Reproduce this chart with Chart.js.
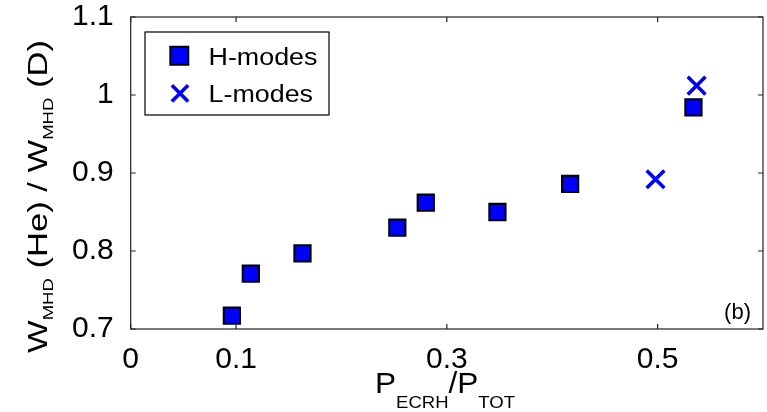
<!DOCTYPE html>
<html><head><meta charset="utf-8">
<script src="https://cdn.jsdelivr.net/npm/chart.js@4.4.0/dist/chart.umd.min.js"></script>
<style>html,body{margin:0;padding:0;background:#fff}#wrap{width:767px;height:412px}</style>
</head><body><div id="wrap"><canvas id="c" width="767" height="412"></canvas></div>
<script>
// ---- data ----
const hModeX = [0.096, 0.114, 0.163, 0.253, 0.280, 0.348, 0.417, 0.534];
const hModeY = [0.717, 0.771, 0.797, 0.830, 0.862, 0.850, 0.886, 0.984];
const lModeX = [0.498, 0.537];
const lModeY = [0.892, 1.012];
const xTicks = [0, 0.1, 0.3, 0.5];
const yTicks = [0.7, 0.8, 0.9, 1, 1.1];
const seriesNames = ['H-modes', 'L-modes'];
const panelLabel = '(b)';

const FONT = '"Liberation Sans", Arial, sans-serif';
const BLUE = '#0000ff';
const fmt = v => String(Math.round(v * 100) / 100);

const extras = {
  id: 'extras',
  afterDraw(chart) {
    const ctx = chart.ctx, a = chart.chartArea;
    const xs = chart.scales.x, ys = chart.scales.y;
    ctx.save();
    // frame
    ctx.strokeStyle = '#222'; ctx.lineWidth = 1.2;
    ctx.strokeRect(a.left, a.top, a.right - a.left, a.bottom - a.top);
    // inward tick marks
    const tl = 5;
    ctx.beginPath();
    xTicks.forEach(v => {
      const px = xs.getPixelForValue(v);
      ctx.moveTo(px, a.bottom); ctx.lineTo(px, a.bottom - tl);
      ctx.moveTo(px, a.top); ctx.lineTo(px, a.top + tl);
    });
    yTicks.forEach(v => {
      const py = ys.getPixelForValue(v);
      ctx.moveTo(a.left, py); ctx.lineTo(a.left + tl, py);
      ctx.moveTo(a.right, py); ctx.lineTo(a.right - tl, py);
    });
    ctx.stroke();

    // legend
    ctx.fillStyle = '#fff';
    ctx.fillRect(145, 32, 184, 83);
    ctx.strokeStyle = '#000'; ctx.lineWidth = 1.2;
    ctx.strokeRect(145, 32, 184, 83);
    const ds = chart.data.datasets;
    const draw = Chart.helpers.drawPoint;
    ctx.fillStyle = ds[0].backgroundColor; ctx.strokeStyle = ds[0].borderColor; ctx.lineWidth = ds[0].borderWidth;
    draw(ctx, {pointStyle: ds[0].pointStyle, radius: 12.7, rotation: 0, borderWidth: ds[0].borderWidth}, 179.3, 55.8);
    ctx.fillStyle = ds[1].backgroundColor; ctx.strokeStyle = ds[1].borderColor; ctx.lineWidth = ds[1].borderWidth;
    draw(ctx, {pointStyle: ds[1].pointStyle, radius: 11.5, rotation: 0, borderWidth: ds[1].borderWidth}, 180, 93.3);
    ctx.fillStyle = '#000';
    ctx.textBaseline = 'alphabetic'; ctx.textAlign = 'left';
    ctx.font = '23px ' + FONT;
    const wH = ctx.measureText(seriesNames[0]).width;
    const sx = 109 / wH;
    [[seriesNames[0], 64.7], [seriesNames[1], 102]].forEach(([t, y]) => {
      ctx.save(); ctx.translate(208.5, y); ctx.scale(sx, 1); ctx.fillText(t, 0, 0); ctx.restore();
    });

    // panel label
    ctx.font = '22px ' + FONT; ctx.textAlign = 'right';
    ctx.fillText(panelLabel, 751, 319);

    // x title
    ctx.textAlign = 'left';
    const xParts = [['P', 29, 0], ['ECRH', 17, 15.6], ['/P', 29, 0], ['TOT', 17, 15.6]];
    let w = 0;
    xParts.forEach(p => { ctx.font = p[1] + 'px ' + FONT; w += ctx.measureText(p[0]).width; });
    ctx.save();
    ctx.translate(445, 392.7);
    ctx.scale(140 / w, 1);
    let x = -w / 2;
    xParts.forEach(p => { ctx.font = p[1] + 'px ' + FONT; ctx.fillText(p[0], x, p[2]); x += ctx.measureText(p[0]).width; });
    ctx.restore();

    // y title (rotated)
    const yParts = [['W', 28, 0], ['MHD', 15, 6], [' (He) / W', 28, 0], ['MHD', 15, 6], [' (D)', 28, 0]];
    w = 0;
    yParts.forEach(p => { ctx.font = p[1] + 'px ' + FONT; w += ctx.measureText(p[0]).width; });
    ctx.translate(47, 196.5);
    ctx.rotate(-Math.PI / 2);
    ctx.scale(313 / w, 1);
    x = -w / 2;
    yParts.forEach(p => { ctx.font = p[1] + 'px ' + FONT; ctx.fillText(p[0], x, p[2]); x += ctx.measureText(p[0]).width; });
    ctx.restore();
  }
};

const zeroPad = s => { s.paddingLeft = 0; s.paddingRight = 0; s.paddingTop = 0; s.paddingBottom = 0; };

new Chart(document.getElementById('c'), {
  type: 'scatter',
  data: {
    datasets: [
      {
        label: seriesNames[0],
        data: hModeX.map((v, i) => ({x: v, y: hModeY[i]})),
        pointStyle: 'rect', pointRadius: 11.5, pointHoverRadius: 11.5,
        backgroundColor: BLUE, borderColor: '#000', borderWidth: 2
      },
      {
        label: seriesNames[1],
        data: lModeX.map((v, i) => ({x: v, y: lModeY[i]})),
        pointStyle: 'crossRot', pointRadius: 12.5, pointHoverRadius: 12.5,
        backgroundColor: BLUE, borderColor: BLUE, borderWidth: 3.6
      }
    ]
  },
  options: {
    responsive: false,
    animation: false,
    events: [],
    layout: {autoPadding: false, padding: {top: 17, right: 4, left: 0, bottom: 0}},
    plugins: {legend: {display: false}, tooltip: {enabled: false}},
    scales: {
      x: {
        type: 'linear', min: 0, max: 0.6,
        grid: {display: false}, border: {display: false},
        afterBuildTicks: s => { s.ticks = xTicks.map(v => ({value: v})); },
        afterFit: s => { s.height = 83; zeroPad(s); },
        ticks: {color: '#000', font: {family: FONT, size: 30}, padding: 5, maxRotation: 0, autoSkip: false, callback: v => fmt(v)}
      },
      y: {
        type: 'linear', min: 0.7, max: 1.1,
        grid: {display: false}, border: {display: false},
        afterBuildTicks: s => { s.ticks = yTicks.map(v => ({value: v})); },
        afterFit: s => { s.width = 130.7; zeroPad(s); },
        ticks: {color: '#000', font: {family: FONT, size: 30}, padding: 9, autoSkip: false, callback: v => fmt(v)}
      }
    }
  },
  plugins: [extras]
});
</script>
</body></html>
